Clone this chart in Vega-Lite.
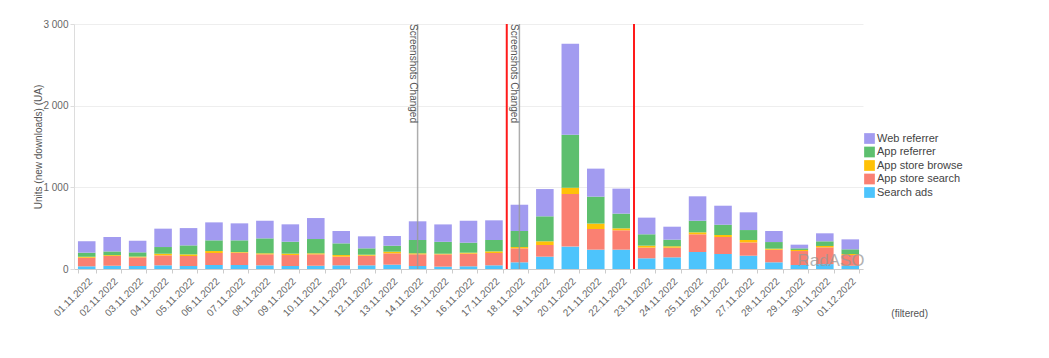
{
  "$schema": "https://vega.github.io/schema/vega-lite/v6.json",
  "width": 789,
  "height": 245,
  "autosize": {"type": "none"},
  "padding": {"left": 74, "top": 24, "right": 186, "bottom": 89},
  "background": "white",
  "config": {"font": "Liberation Sans", "view": {"stroke": null}},
  "title": {"text": "(filtered)", "orient": "bottom", "anchor": "end", "frame": "group", "fontSize": 10, "fontWeight": "normal", "color": "#555", "dx": 65, "offset": -9},
  "datasets": {
    "traffic": [
      {"date": "01.11.2022", "Search ads": 33, "App store search": 105, "App store browse": 12, "App referrer": 50, "Web referrer": 140},
      {"date": "02.11.2022", "Search ads": 40, "App store search": 120, "App store browse": 10, "App referrer": 45, "Web referrer": 177},
      {"date": "03.11.2022", "Search ads": 37, "App store search": 105, "App store browse": 10, "App referrer": 52, "Web referrer": 142},
      {"date": "04.11.2022", "Search ads": 45, "App store search": 122, "App store browse": 20, "App referrer": 82, "Web referrer": 225},
      {"date": "05.11.2022", "Search ads": 37, "App store search": 122, "App store browse": 20, "App referrer": 110, "Web referrer": 212},
      {"date": "06.11.2022", "Search ads": 49, "App store search": 147, "App store browse": 24, "App referrer": 131, "Web referrer": 220},
      {"date": "07.11.2022", "Search ads": 49, "App store search": 150, "App store browse": 8, "App referrer": 144, "Web referrer": 208},
      {"date": "08.11.2022", "Search ads": 45, "App store search": 135, "App store browse": 12, "App referrer": 183, "Web referrer": 216},
      {"date": "09.11.2022", "Search ads": 37, "App store search": 134, "App store browse": 17, "App referrer": 146, "Web referrer": 213},
      {"date": "10.11.2022", "Search ads": 40, "App store search": 140, "App store browse": 12, "App referrer": 175, "Web referrer": 257},
      {"date": "11.11.2022", "Search ads": 45, "App store search": 106, "App store browse": 20, "App referrer": 143, "Web referrer": 151},
      {"date": "12.11.2022", "Search ads": 45, "App store search": 118, "App store browse": 12, "App referrer": 78, "Web referrer": 147},
      {"date": "13.11.2022", "Search ads": 53, "App store search": 139, "App store browse": 20, "App referrer": 73, "Web referrer": 119},
      {"date": "14.11.2022", "Search ads": 37, "App store search": 143, "App store browse": 12, "App referrer": 163, "Web referrer": 229},
      {"date": "15.11.2022", "Search ads": 29, "App store search": 150, "App store browse": 8, "App referrer": 146, "Web referrer": 213},
      {"date": "16.11.2022", "Search ads": 33, "App store search": 155, "App store browse": 12, "App referrer": 122, "Web referrer": 269},
      {"date": "17.11.2022", "Search ads": 45, "App store search": 151, "App store browse": 20, "App referrer": 139, "Web referrer": 241},
      {"date": "18.11.2022", "Search ads": 82, "App store search": 171, "App store browse": 16, "App referrer": 196, "Web referrer": 322},
      {"date": "19.11.2022", "Search ads": 151, "App store search": 143, "App store browse": 45, "App referrer": 306, "Web referrer": 334},
      {"date": "20.11.2022", "Search ads": 274, "App store search": 644, "App store browse": 78, "App referrer": 649, "Web referrer": 1114},
      {"date": "21.11.2022", "Search ads": 237, "App store search": 253, "App store browse": 66, "App referrer": 330, "Web referrer": 343},
      {"date": "22.11.2022", "Search ads": 237, "App store search": 237, "App store browse": 24, "App referrer": 180, "Web referrer": 306},
      {"date": "23.11.2022", "Search ads": 131, "App store search": 131, "App store browse": 24, "App referrer": 139, "Web referrer": 204},
      {"date": "24.11.2022", "Search ads": 143, "App store search": 118, "App store browse": 17, "App referrer": 81, "Web referrer": 159},
      {"date": "25.11.2022", "Search ads": 208, "App store search": 217, "App store browse": 24, "App referrer": 142, "Web referrer": 299},
      {"date": "26.11.2022", "Search ads": 184, "App store search": 208, "App store browse": 24, "App referrer": 126, "Web referrer": 233},
      {"date": "27.11.2022", "Search ads": 163, "App store search": 163, "App store browse": 29, "App referrer": 122, "Web referrer": 217},
      {"date": "28.11.2022", "Search ads": 82, "App store search": 154, "App store browse": 13, "App referrer": 81, "Web referrer": 135},
      {"date": "29.11.2022", "Search ads": 49, "App store search": 171, "App store browse": 13, "App referrer": 20, "Web referrer": 45},
      {"date": "30.11.2022", "Search ads": 60, "App store search": 205, "App store browse": 17, "App referrer": 57, "Web referrer": 98},
      {"date": "01.12.2022", "Search ads": 40, "App store search": 131, "App store browse": 13, "App referrer": 57, "Web referrer": 122}
    ],
    "notes": [
      {"date": "14.11.2022", "label": "Screenshots Changed"},
      {"date": "18.11.2022", "label": "Screenshots Changed"}
    ],
    "periods": [
      {"date": "18.11.2022"},
      {"date": "23.11.2022"}
    ],
    "watermark": [
      {"date": "30.11.2022", "units": 100, "label": "RadASO"}
    ]
  },
  "layer": [
    {
      "data": {"name": "traffic"},
      "transform": [
        {"fold": ["Search ads", "App store search", "App store browse", "App referrer", "Web referrer"], "as": ["source", "units"]},
        {"window": [{"op": "row_number", "as": "layer_rank"}], "groupby": ["date"]}
      ],
      "mark": {"type": "bar"},
      "encoding": {
        "x": {
          "field": "date", "type": "ordinal",
          "scale": {
            "domain": ["01.11.2022","02.11.2022","03.11.2022","04.11.2022","05.11.2022","06.11.2022","07.11.2022","08.11.2022","09.11.2022","10.11.2022","11.11.2022","12.11.2022","13.11.2022","14.11.2022","15.11.2022","16.11.2022","17.11.2022","18.11.2022","19.11.2022","20.11.2022","21.11.2022","22.11.2022","23.11.2022","24.11.2022","25.11.2022","26.11.2022","27.11.2022","28.11.2022","29.11.2022","30.11.2022","01.12.2022"],
            "paddingInner": 0.31, "paddingOuter": 0.155
          },
          "axis": {"title": null, "labelAngle": -45, "labelFontSize": 10, "labelColor": "#666", "tickBand": "extent", "domainColor": "#ccc", "tickColor": "#ccc", "tickSize": 4, "labelPadding": 3}
        },
        "y": {
          "field": "units", "type": "quantitative", "stack": "zero",
          "scale": {"domain": [0, 3000]},
          "axis": {"values": [0, 1000, 2000, 3000], "labelExpr": "replace(format(datum.value, ','), ',', ' ')", "title": "Units (new downloads) (UA)", "titleFontSize": 10, "titleFontWeight": "normal", "titleColor": "#555", "titlePadding": -1, "labelFontSize": 10, "labelColor": "#666", "gridColor": "#eeeeee", "domainColor": "#ddd", "tickColor": "#ddd", "tickSize": 4, "labelPadding": 2}
        },
        "order": {"field": "layer_rank", "type": "quantitative", "sort": "ascending"},
        "color": {
          "field": "source", "type": "nominal",
          "scale": {
            "domain": ["Web referrer", "App referrer", "App store browse", "App store search", "Search ads"],
            "range": ["#a29bf0", "#5dbf6e", "#ffc107", "#fa8072", "#4dc4fc"]
          },
          "legend": {"orient": "none", "legendX": 790, "legendY": 109, "title": null, "symbolType": "square", "symbolSize": 115, "symbolStrokeWidth": 0, "labelFontSize": 11, "labelColor": "#444", "labelOffset": 2, "rowPadding": 1.5}
        }
      }
    },
    {
      "data": {"name": "notes"},
      "mark": {"type": "rule", "color": "#999", "strokeWidth": 1.5, "opacity": 0.8},
      "encoding": {"x": {"field": "date", "type": "ordinal", "bandPosition": 0.5}}
    },
    {
      "data": {"name": "notes"},
      "mark": {"type": "text", "angle": 90, "align": "left", "baseline": "top", "fontSize": 10, "color": "#555"},
      "encoding": {
        "x": {"field": "date", "type": "ordinal", "bandPosition": 0.5},
        "y": {"datum": 3000},
        "text": {"field": "label"}
      }
    },
    {
      "data": {"name": "periods"},
      "mark": {"type": "rule", "color": "#ff1a1a", "strokeWidth": 2},
      "encoding": {"x": {"field": "date", "type": "ordinal", "bandPosition": -0.22}}
    },
    {
      "data": {"name": "watermark"},
      "mark": {"type": "text", "fontSize": 17, "color": "#999", "opacity": 0.75, "baseline": "middle"},
      "encoding": {
        "x": {"field": "date", "type": "ordinal", "bandPosition": 0.85},
        "y": {"field": "units", "type": "quantitative"},
        "text": {"field": "label"}
      }
    }
  ]
}
